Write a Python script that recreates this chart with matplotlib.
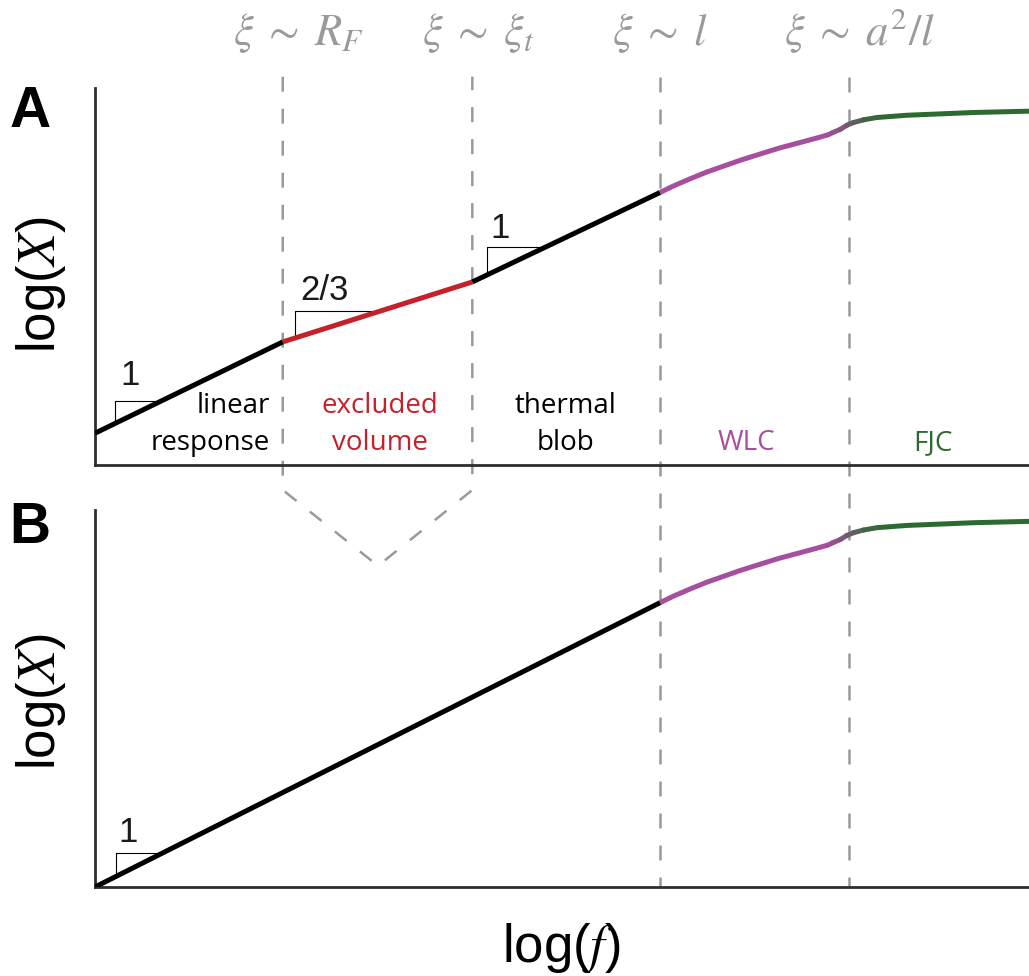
import matplotlib.pyplot as plt
import numpy as np
from matplotlib.collections import LineCollection
from matplotlib.colors import to_rgb

plt.rcParams['font.family'] = ['Liberation Sans', 'DejaVu Sans']
plt.rcParams['mathtext.fontset'] = 'stix'

# crossover positions along log(f)
bounds = [2.01, 4.04, 6.05, 8.07]
bound_labels = [r'$\xi\;\sim\;R_F$', r'$\xi\;\sim\;\xi_t$', r'$\xi\;\sim\;l$',
                r'$\xi\;\sim\;a^{2}/l$']
bound_label_x = [2.18, 4.10, 6.05, 8.19]

# panel A: linear, excluded volume, thermal blob
a_low_x = [0, 2.01, 4.04, 6.05]
a_low_y = [0.70, 2.71, 4.03, 6.00]

# panel B: one linear regime up to l
b_low_x = [0, 6.05]
b_low_y = [0, 6.26]

# worm-like chain part
wlc_x = [6.05, 6.19, 6.37, 6.55, 6.73, 6.91, 7.08, 7.33, 7.55, 7.73, 7.85]
wlc_y_a = [6.00, 6.14, 6.30, 6.45, 6.58, 6.71, 6.82, 6.98, 7.10, 7.20, 7.27]
wlc_y_b = [6.26, 6.40, 6.56, 6.71, 6.84, 6.97, 7.08, 7.24, 7.36, 7.46, 7.53]

# WLC -> FJC kink
cross_x = [7.85, 7.90, 7.98, 8.05, 8.12, 8.23, 8.37]
cross_y_a = [7.27, 7.32, 7.39, 7.48, 7.54, 7.60, 7.65]
cross_y_b = [7.53, 7.58, 7.65, 7.74, 7.80, 7.86, 7.91]

# freely jointed chain part
fjc_x = [8.37, 8.69, 9.05, 9.40, 10.0]
fjc_y_a = [7.65, 7.70, 7.73, 7.76, 7.79]
fjc_y_b = [7.91, 7.96, 7.99, 8.02, 8.05]

RED = '#c4212b'
PURPLE = '#a64f9f'
GREEN = '#2d6a31'
DASH = '#9a9a9a'
AXC = '#2e2e2e'
LW = 3.6

fig = plt.figure(figsize=(10.29, 9.76), dpi=100)
ax_a = fig.add_axes([95 / 1029, 1 - 465 / 976, 934 / 1029, 377 / 976])
ax_b = fig.add_axes([95 / 1029, 1 - 887 / 976, 934 / 1029, 377 / 976])

for ax in (ax_a, ax_b):
    ax.set_xlim(0, 10)
    ax.set_ylim(0, 8.3)
    ax.set_xticks([])
    ax.set_yticks([])
    ax.patch.set_visible(False)
    for side in ('top', 'right'):
        ax.spines[side].set_visible(False)
    for side in ('left', 'bottom'):
        ax.spines[side].set_color(AXC)
        ax.spines[side].set_linewidth(2.0)


def draw_chain(ax, wy, cy, fy):
    ax.plot(wlc_x, wy, color=PURPLE, lw=LW, solid_capstyle='butt', zorder=4)
    ax.plot(fjc_x, fy, color=GREEN, lw=LW, solid_capstyle='butt', zorder=4)
    pts = np.column_stack([cross_x, cy])
    segs = np.stack([pts[:-1], pts[1:]], axis=1)
    mid = (np.array(cross_x[:-1]) + np.array(cross_x[1:])) / 2
    t = (mid - cross_x[0]) / (cross_x[-1] - cross_x[0])
    p, g = np.array(to_rgb(PURPLE)), np.array(to_rgb(GREEN))
    cols = [(1 - s) * p + s * g for s in t]
    ax.add_collection(LineCollection(segs, colors=cols, linewidths=LW,
                                     capstyle='round', zorder=4))


def slope_box(ax, xs, ys, x0, top):
    # little slope triangle sitting on the curve
    y0 = np.interp(x0, xs, ys)
    x1 = np.interp(top, ys, xs)
    ax.plot([x0, x0, x1], [y0, top, top], color='black', lw=0.8, zorder=3)


# panel A curve
seg_cols = ['black', RED, 'black']
for i in range(3):
    ax_a.plot(a_low_x[i:i + 2], a_low_y[i:i + 2], color=seg_cols[i], lw=LW,
              solid_capstyle='butt', zorder=4)
draw_chain(ax_a, wlc_y_a, cross_y_a, fjc_y_a)

# panel B curve
ax_b.plot(b_low_x, b_low_y, color='black', lw=LW, solid_capstyle='butt', zorder=4)
draw_chain(ax_b, wlc_y_b, cross_y_b, fjc_y_b)

# slope triangles
slope_box(ax_a, a_low_x, a_low_y, 0.21, 1.40)
slope_box(ax_a, a_low_x, a_low_y, 2.14, 3.39)
slope_box(ax_a, a_low_x, a_low_y, 4.20, 4.80)
slope_box(ax_b, b_low_x, b_low_y, 0.225, 0.75)
num_kw = dict(fontsize=25, ha='center', va='center', color='#1a1a1a')
ax_a.text(0.375, 1.96, '1', **num_kw)
ax_a.text(2.46, 3.85, '2/3', **num_kw)
ax_a.text(4.34, 5.20, '1', **num_kw)
ax_b.text(0.35, 1.21, '1', **num_kw)

# crossover lines, the first two folding into a V between the panels
dash_kw = dict(color=DASH, lw=1.8, dashes=(6, 6.8), clip_on=False, zorder=2)
ax_a.plot([bounds[0], bounds[0], 3.03, bounds[1], bounds[1]],
          [8.55, -0.55, -2.22, -0.55, 8.55], **dash_kw)
for xb in bounds[2:]:
    ax_a.plot([xb, xb], [8.55, -9.30], **dash_kw)

for xl, lab in zip(bound_label_x, bound_labels):
    ax_a.text(xl, 9.25, lab, fontsize=32, color=DASH, ha='center',
              va='baseline', clip_on=False)

# regime names
reg_kw = dict(fontsize=20, family='Open Sans', va='baseline')
ax_a.text(1.874, 1.145, 'linear', ha='right', color='black', **reg_kw)
ax_a.text(1.874, 0.33, 'response', ha='right', color='black', **reg_kw)
ax_a.text(3.05, 1.145, 'excluded', ha='center', color=RED, **reg_kw)
ax_a.text(3.05, 0.33, 'volume', ha='center', color=RED, **reg_kw)
ax_a.text(5.04, 1.145, 'thermal', ha='center', color='black', **reg_kw)
ax_a.text(5.04, 0.33, 'blob', ha='center', color='black', **reg_kw)
ax_a.text(6.97, 0.33, 'WLC', ha='center', color=PURPLE, **reg_kw)
ax_a.text(8.97, 0.33, 'FJC', ha='center', color=GREEN, **reg_kw)

# panel letters and axis labels
fig.text(30 / 1029, 1 - 112 / 976, 'A', fontsize=41, fontweight='bold',
         ha='center', va='center')
fig.text(30 / 1029, 1 - 528 / 976, 'B', fontsize=41, fontweight='bold',
         ha='center', va='center')
for yc in (285, 702):
    fig.text(55 / 1029, 1 - yc / 976, 'log($X$)', fontsize=38, rotation=90,
             rotation_mode='anchor', ha='center', va='baseline')
fig.text(561 / 1029, 1 - 962 / 976, 'log($f$)', fontsize=38,
         ha='center', va='baseline')

fig.savefig('out.png', dpi=100)
